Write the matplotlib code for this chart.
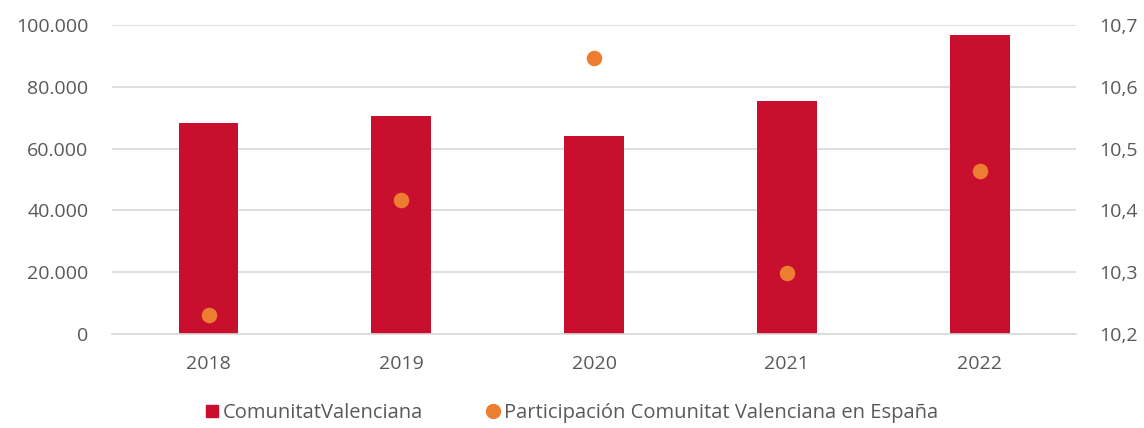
import matplotlib
matplotlib.use("Agg")
from matplotlib import pyplot as plt
from matplotlib.ticker import FuncFormatter
from matplotlib.lines import Line2D

years = ["2018", "2019", "2020", "2021", "2022"]
cv_values = [68300, 70600, 64100, 75400, 96800]
share_values = [10.231, 10.417, 10.647, 10.299, 10.464]

bar_color = "#C8102E"
dot_color = "#ED7D31"
text_color = "#595959"

plt.rcParams['font.family'] = ['Open Sans', 'DejaVu Sans']

fig = plt.figure(figsize=(11.44, 4.28), dpi=100)
ax = fig.add_axes([0.098, 0.2196, 0.8426, 0.722])
x = list(range(len(years)))
ax.bar(x, cv_values, width=0.31, color=bar_color, zorder=2)
ax.set_xlim(-0.5, len(years) - 0.5)
ax.set_ylim(0, 100000)
ax.set_yticks(range(0, 100001, 20000))
ax.yaxis.set_major_formatter(FuncFormatter(lambda v, p: f"{int(v):,}".replace(",", ".")))
ax.set_xticks(x)
ax.set_xticklabels(years)
ax.grid(axis="y", color="#D9D9D9", linewidth=1.2, zorder=0)
for s in ["top", "right", "left"]:
    ax.spines[s].set_visible(False)
ax.spines["bottom"].set_color("#D9D9D9")
ax.spines["bottom"].set_linewidth(1.2)
ax.tick_params(axis="both", length=0, colors=text_color, labelsize=14)
ax.tick_params(axis="x", pad=15)
ax.tick_params(axis="y", pad=17)

ax2 = ax.twinx()
ax2.scatter(x, share_values, s=125, color=dot_color, zorder=3, linewidths=0)
ax2.set_ylim(10.2, 10.7)
ax2.set_yticks([10.2, 10.3, 10.4, 10.5, 10.6, 10.7])
ax2.yaxis.set_major_formatter(FuncFormatter(lambda v, p: f"{v:.1f}".replace(".", ",")))
for s in ["top", "right", "left", "bottom"]:
    ax2.spines[s].set_visible(False)
ax2.tick_params(axis="y", length=0, colors=text_color, labelsize=14, pad=17)

handles = [
    Line2D([], [], marker="s", linestyle="none", markersize=8.5, color=bar_color),
    Line2D([], [], marker="o", linestyle="none", markersize=10, color=dot_color),
]
fig.legend(handles, ["ComunitatValenciana", "Participación Comunitat Valenciana en España"],
           loc="center", bbox_to_anchor=(0.5, 0.035), ncol=2, frameon=False,
           fontsize=14.5, labelcolor=text_color, handlelength=0.6, handletextpad=0.25,
           columnspacing=3.2)

fig.savefig("out.png", dpi=100)
